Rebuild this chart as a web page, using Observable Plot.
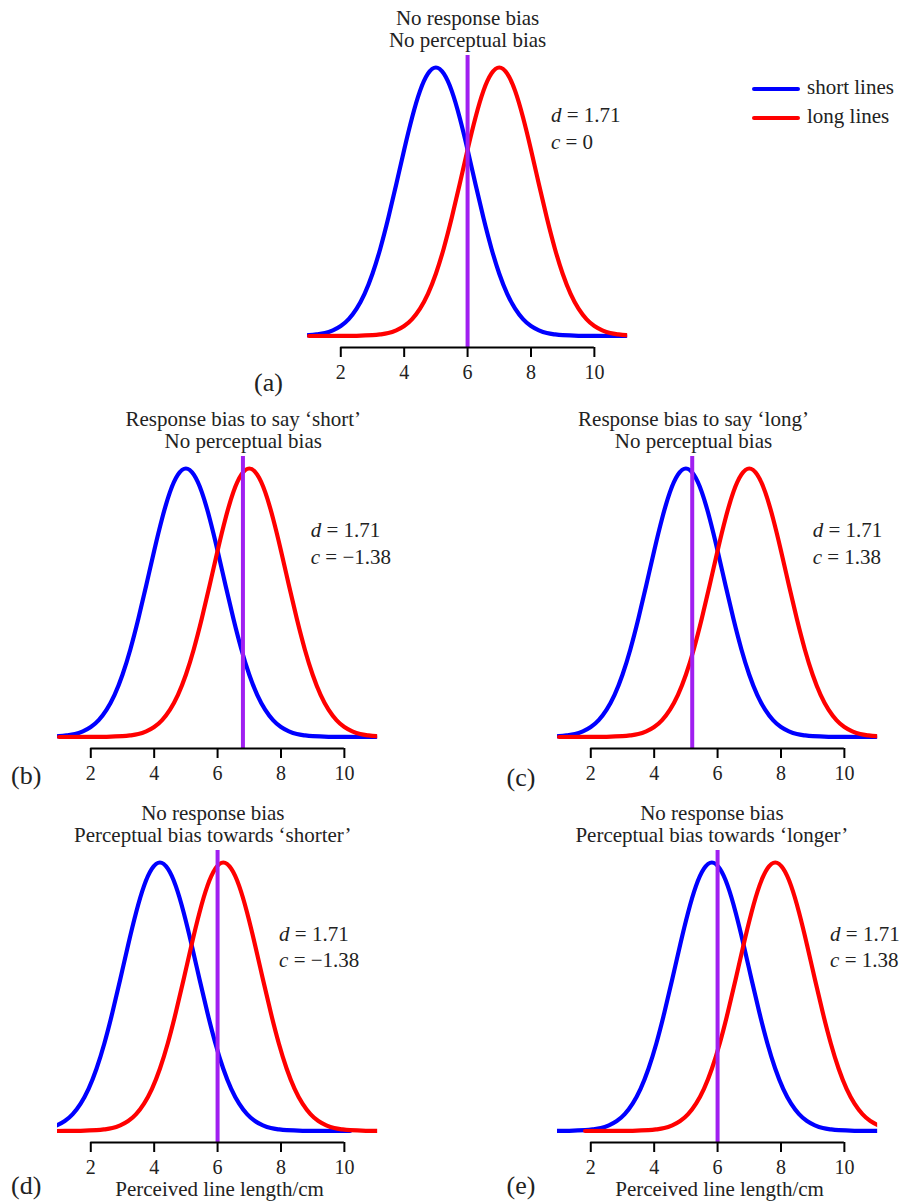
<!DOCTYPE html>
<html><head><meta charset="utf-8">
<script src="https://cdn.jsdelivr.net/npm/d3@7"></script>
<script src="https://cdn.jsdelivr.net/npm/@observablehq/plot@0.6"></script>
<style>
html,body{margin:0;padding:0;background:#fff;}
#chart{position:relative;width:901px;height:1204px;overflow:hidden;font-family:"Liberation Serif","Times New Roman",serif;color:#222;}
.panel{position:absolute;}
.panel svg{max-width:none !important;}
.legend{position:absolute;left:752px;top:73px;font-size:21px;line-height:29px;}
.legend .row{white-space:nowrap;}
.legend .sw{display:inline-block;width:48px;height:4px;border-radius:2px;vertical-align:middle;margin-right:7px;}
</style></head><body><div id="chart"></div>
<script>
// ---------- data ----------
const panelIds = ["a", "b", "c", "d", "e"];
const titleLine1 = ["No response bias", "Response bias to say ‘short’", "Response bias to say ‘long’", "No response bias", "No response bias"];
const titleLine2 = ["No perceptual bias", "No perceptual bias", "No perceptual bias", "Perceptual bias towards ‘shorter’", "Perceptual bias towards ‘longer’"];
const shortMeans = [5, 5, 5, 4.18, 5.82];
const longMeans = [7, 7, 7, 6.18, 7.82];
const criteria = [6, 6.8, 5.2, 6, 6];
const dPrime = ["1.71", "1.71", "1.71", "1.71", "1.71"];
const cValues = ["0", "−1.38", "1.38", "−1.38", "1.38"];
const xTicks = [2, 4, 6, 8, 10];
const xLabel = "Perceived line length/cm";
const seriesNames = ["short lines", "long lines"];
// curve profile (height relative to peak) against distance from the curve's centre
const profileOffsets = [0, 0.25, 0.5, 0.75, 1, 1.25, 1.5, 1.75, 2, 2.25, 2.5, 2.75, 3, 3.25, 3.5, 3.75, 4, 4.5, 5, 6];
const profileHeights = [1, 0.977, 0.913, 0.814, 0.694, 0.565, 0.44, 0.327, 0.232, 0.157, 0.102, 0.063, 0.037, 0.021, 0.011, 0.006, 0.003, 0.0006, 0.0001, 0];

// ---------- styles / layout ----------
const seriesColors = ["blue", "red"];
const criterionColor = "#A020F0";
const fontFamily = "Liberation Serif, Times New Roman, serif";
const unit = 31.7;
const xDomain = [0.95, 11.05];
const yDomain = [-0.0428, 1.0447];
const frameW = (xDomain[1] - xDomain[0]) * unit;
const frameH = 292;
const ML = 70, MR = 70, MT = 62, MB = 70;
const layout = {
  a: {cx: 466.7, top: 55, titleX: 6.0, annoX: 8.63, annoY: 0.698, letterDx: -39, letterDy: 44, xLab: false},
  b: {cx: 216.7, top: 456, titleX: 6.81, annoX: 8.94, annoY: 0.646, letterDx: -31.3, letterDy: 36, xLab: false},
  c: {cx: 716.7, top: 456, titleX: 5.24, annoX: 9.0, annoY: 0.646, letterDx: -36.6, letterDy: 38, xLab: false},
  d: {cx: 216.7, top: 850, titleX: 5.85, annoX: 7.94, annoY: 0.61, letterDx: -31.3, letterDy: 52, xLab: true},
  e: {cx: 716.7, top: 850, titleX: 5.82, annoX: 9.55, annoY: 0.61, letterDx: -36.6, letterDy: 52, xLab: true}
};

// symmetric profile
const fullOffsets = [], fullHeights = [];
for (let k = profileOffsets.length - 1; k > 0; --k) { fullOffsets.push(-profileOffsets[k]); fullHeights.push(profileHeights[k]); }
for (let k = 0; k < profileOffsets.length; ++k) { fullOffsets.push(profileOffsets[k]); fullHeights.push(profileHeights[k]); }

const chart = document.getElementById("chart");
const svgNS = "http://www.w3.org/2000/svg";

function italicizeFirst(el) {
  const s = el.textContent;
  el.textContent = "";
  const it = document.createElementNS(svgNS, "tspan");
  it.setAttribute("font-style", "italic");
  it.style.fontStyle = "italic";
  it.textContent = s[0];
  el.appendChild(it);
  el.appendChild(document.createTextNode(s.slice(1)));
}

function makePanel(i) {
  const id = panelIds[i], L = layout[id];
  const rows = [];
  [shortMeans[i], longMeans[i]].forEach((m, s) => {
    fullOffsets.forEach((o, k) => rows.push({series: seriesNames[s], x: m + o, y: fullHeights[k]}));
  });
  const W = ML + frameW + MR, H = MT + frameH + MB;
  const marks = [
    Plot.line(rows, {x: "x", y: "y", z: "series", stroke: "series", strokeWidth: 4.2, curve: "natural", clip: true}),
    Plot.ruleX([criteria[i]], {stroke: criterionColor, strokeWidth: 4}),
    Plot.ruleY([yDomain[0]], {x1: xTicks[0], x2: xTicks[xTicks.length - 1], stroke: "black", strokeWidth: 2}),
    Plot.axisX({ticks: xTicks, tickSize: 10, tickPadding: 7, strokeWidth: 2, stroke: "black", fontSize: 20, label: null}),
    Plot.text([titleLine1[i] + "\n" + titleLine2[i]], {x: [L.titleX], text: d => d, frameAnchor: "top", lineAnchor: "bottom", dy: -8, fontSize: 21, lineHeight: 1.07}),
    Plot.text([`d = ${dPrime[i]}`, `c = ${cValues[i]}`], {x: [L.annoX, L.annoX], y: [L.annoY + 26.7 / 268.5, L.annoY], text: d => d, textAnchor: "start", lineAnchor: "bottom", fontSize: 21}),
    Plot.text([`(${id})`], {frameAnchor: "bottom-left", dx: L.letterDx, dy: L.letterDy, textAnchor: "middle", lineAnchor: "bottom", fontSize: 26})
  ];
  if (L.xLab) marks.push(Plot.text([xLabel], {frameAnchor: "bottom", dx: 2, dy: 54, lineAnchor: "bottom", fontSize: 21}));
  const plot = Plot.plot({
    width: W, height: H,
    marginLeft: ML, marginRight: MR, marginTop: MT, marginBottom: MB,
    style: {fontFamily, fontSize: "20px", color: "#222", background: "transparent", overflow: "visible", maxWidth: "none"},
    x: {domain: xDomain, label: null},
    y: {domain: yDomain, axis: null, label: null},
    color: {domain: seriesNames, range: seriesColors},
    marks
  });
  // italic statistic letters (d, c)
  plot.querySelectorAll("text").forEach(t => {
    const s = t.textContent;
    if ((s.startsWith("d = ") || s.startsWith("c = ")) && !t.querySelector("tspan")) italicizeFirst(t);
  });
  const wrap = document.createElement("div");
  wrap.className = "panel";
  wrap.style.left = (L.cx - (6 - xDomain[0]) * unit - ML) + "px";
  wrap.style.top = (L.top - MT) + "px";
  wrap.style.width = W + "px";
  wrap.style.height = H + "px";
  wrap.appendChild(plot);
  chart.appendChild(wrap);
}
panelIds.forEach((_, i) => makePanel(i));

// legend
const legend = document.createElement("div");
legend.className = "legend";
seriesNames.forEach((n, k) => {
  const row = document.createElement("div");
  row.className = "row";
  const sw = document.createElement("span");
  sw.className = "sw";
  sw.style.background = seriesColors[k];
  row.appendChild(sw);
  row.appendChild(document.createTextNode(n));
  legend.appendChild(row);
});
chart.appendChild(legend);
</script>
</body></html>
